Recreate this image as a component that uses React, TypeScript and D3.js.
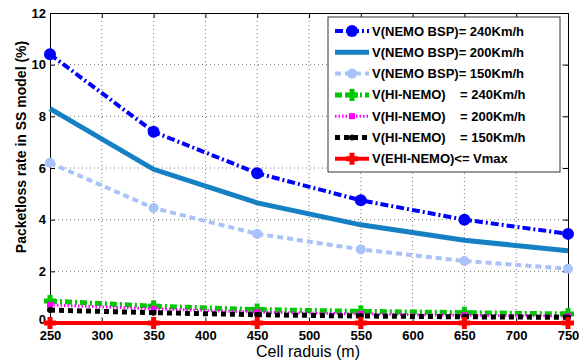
import React, { useEffect, useRef } from 'react'
import * as d3 from 'd3'

const radius = [250, 350, 450, 550, 650, 750]
const xTicks = [250, 300, 350, 400, 450, 500, 550, 600, 650, 700, 750]
const yTicks = [0, 2, 4, 6, 8, 10, 12]

const bsp240 = [10.4, 7.4, 5.8, 4.75, 4.0, 3.45]
const bsp200 = [8.3, 5.95, 4.65, 3.8, 3.2, 2.8]
const bsp150 = [6.2, 4.45, 3.45, 2.85, 2.4, 2.1]
const hi240 = [0.85, 0.65, 0.52, 0.45, 0.4, 0.35]
const hi200 = [0.7, 0.55, 0.42, 0.35, 0.3, 0.27]
const hi150 = [0.5, 0.4, 0.32, 0.27, 0.24, 0.22]
const ehi = [0, 0, 0, 0, 0, 0]

const seriesNames = [
  'V(NEMO BSP)= 240Km/h',
  'V(NEMO BSP)= 200Km/h',
  'V(NEMO BSP)= 150Km/h',
  'V(HI-NEMO)    = 240Km/h',
  'V(HI-NEMO)    = 200Km/h',
  'V(HI-NEMO)    = 150Km/h',
  'V(EHI-NEMO)<= Vmax',
]

export default function App() {
  const ref = useRef<SVGSVGElement>(null)
  const margin = { top: 13, right: 13, bottom: 40, left: 50 }
  const W = 581
  const H = 363
  const width = W - margin.left - margin.right
  const height = H - margin.top - margin.bottom

  useEffect(() => {
    draw()
  }, [])

  const draw = () => {
    const root = d3.select(ref.current)
    root.selectAll('*').remove()
    const font = 'Liberation Sans, Arial, sans-serif'

    const svg = root.append('g')
      .attr('transform', `translate(${margin.left},${margin.top})`)

    const x = d3.scaleLinear().domain([250, 750]).range([0, width])
    const y = d3.scaleLinear().domain([0, 12]).range([height, 0])

    // grid
    svg.append('g').selectAll('line')
      .data(xTicks.slice(1, -1))
      .join('line')
      .attr('x1', d => x(d)).attr('x2', d => x(d))
      .attr('y1', 0).attr('y2', height)
      .attr('stroke', '#777').attr('stroke-width', 1)
      .attr('stroke-dasharray', '1,3')
    svg.append('g').selectAll('line')
      .data(yTicks.slice(1, -1))
      .join('line')
      .attr('y1', d => y(d)).attr('y2', d => y(d))
      .attr('x1', 0).attr('x2', width)
      .attr('stroke', '#777').attr('stroke-width', 1)
      .attr('stroke-dasharray', '1,3')

    // axes, ticks inside
    const xAxis = svg.append('g')
      .attr('transform', `translate(0,${height})`)
      .call(d3.axisBottom(x).tickValues(xTicks).tickSizeInner(-5).tickSizeOuter(0).tickPadding(8))
    const xTop = svg.append('g')
      .call(d3.axisTop(x).tickValues(xTicks).tickSizeInner(-5).tickSizeOuter(0).tickFormat(() => ''))
    const yAxis = svg.append('g')
      .call(d3.axisLeft(y).tickValues(yTicks).tickSizeInner(-5).tickSizeOuter(0).tickPadding(4))
    const yRight = svg.append('g')
      .attr('transform', `translate(${width},0)`)
      .call(d3.axisRight(y).tickValues(yTicks).tickSizeInner(-5).tickSizeOuter(0).tickFormat(() => ''))
    ;[xAxis, xTop, yAxis, yRight].forEach(g => {
      g.selectAll('path').attr('stroke', '#000')
      g.selectAll('line').attr('stroke', '#000')
      g.selectAll('text')
        .style('font-family', font)
        .style('font-size', '13px')
        .style('font-weight', 'bold')
        .attr('fill', '#000')
    })
    // "0" sits a bit higher so it clears the 250 label
    yAxis.selectAll('text').filter((d: any) => d === 0).attr('dy', '0em')

    const styles = [
      { data: bsp240, color: '#0000ff', w: 4, dash: '8,3,2,3', marker: 'circle', r: 6 },
      { data: bsp200, color: '#1680c4', w: 5, dash: null, marker: 'none', r: 0 },
      { data: bsp150, color: '#a9c2f7', w: 4, dash: '6,4', marker: 'circle', r: 5 },
      { data: hi240, color: '#00c800', w: 5, dash: '7,3,2,3', marker: 'plus', r: 6 },
      { data: hi200, color: '#ff00ff', w: 3, dash: '1.5,2', marker: 'square', r: 3 },
      { data: hi150, color: '#000000', w: 5, dash: '5,4', marker: 'dot', r: 3 },
      { data: ehi, color: '#ff0000', w: 4, dash: null, marker: 'plus', r: 6 },
    ]

    const line = d3.line<number>()
      .x((d, i) => x(radius[i]))
      .y(d => y(d))

    const drawMarker = (g: any, type: string, cx: number, cy: number, r: number, color: string) => {
      if (type === 'circle' || type === 'dot') {
        g.append('circle').attr('cx', cx).attr('cy', cy).attr('r', r).attr('fill', color)
      } else if (type === 'square') {
        g.append('rect').attr('x', cx - r).attr('y', cy - r).attr('width', 2 * r).attr('height', 2 * r).attr('fill', color)
      } else if (type === 'plus') {
        g.append('path')
          .attr('d', `M${cx - r},${cy}H${cx + r}M${cx},${cy - r}V${cy + r}`)
          .attr('stroke', color).attr('stroke-width', 5)
      }
    }

    const plotG = svg.append('g')
    styles.forEach(s => {
      const p = plotG.append('path')
        .datum(s.data)
        .attr('d', line)
        .attr('fill', 'none')
        .attr('stroke', s.color)
        .attr('stroke-width', s.w)
      if (s.dash) p.attr('stroke-dasharray', s.dash)
      s.data.forEach((v, i) => drawMarker(plotG, s.marker, x(radius[i]), y(v), s.r, s.color))
    })

    // legend
    const lx = 328 - margin.left
    const ly = 17 - margin.top
    const leg = svg.append('g')
    leg.append('rect')
      .attr('x', lx).attr('y', ly)
      .attr('width', 232).attr('height', 155)
      .attr('fill', '#fff').attr('stroke', '#333').attr('stroke-width', 1)
    styles.forEach((s, i) => {
      const cy = ly + 14 + i * 21.3
      const p = leg.append('line')
        .attr('x1', lx + 7).attr('x2', lx + 41)
        .attr('y1', cy).attr('y2', cy)
        .attr('stroke', s.color).attr('stroke-width', s.w)
      if (s.dash) p.attr('stroke-dasharray', s.dash)
      drawMarker(leg, s.marker, lx + 24, cy, s.r, s.color)
      leg.append('text')
        .attr('x', lx + 44).attr('y', cy)
        .attr('dy', '0.35em')
        .attr('xml:space', 'preserve')
        .style('white-space', 'pre')
        .style('font-family', font)
        .style('font-size', '13px')
        .style('font-weight', 'bold')
        .text(seriesNames[i])
    })

    // axis titles
    svg.append('text')
      .attr('x', 308 - margin.left).attr('y', 357 - margin.top)
      .attr('text-anchor', 'middle')
      .style('font-family', font)
      .style('font-size', '16px')
      .text('Cell raduis (m)')
    svg.append('text')
      .attr('transform', `translate(${26 - margin.left},${147 - margin.top}) rotate(-90)`)
      .attr('text-anchor', 'middle')
      .style('font-family', font)
      .style('font-size', '14px')
      .style('font-weight', 'bold')
      .text('Packetloss rate in SS model (%)')
  }

  return (
    <div>
      <svg ref={ref} width={W} height={H}
        style={{ position: 'absolute', left: 0, top: 0, background: '#fff' }}></svg>
    </div>
  )
}
